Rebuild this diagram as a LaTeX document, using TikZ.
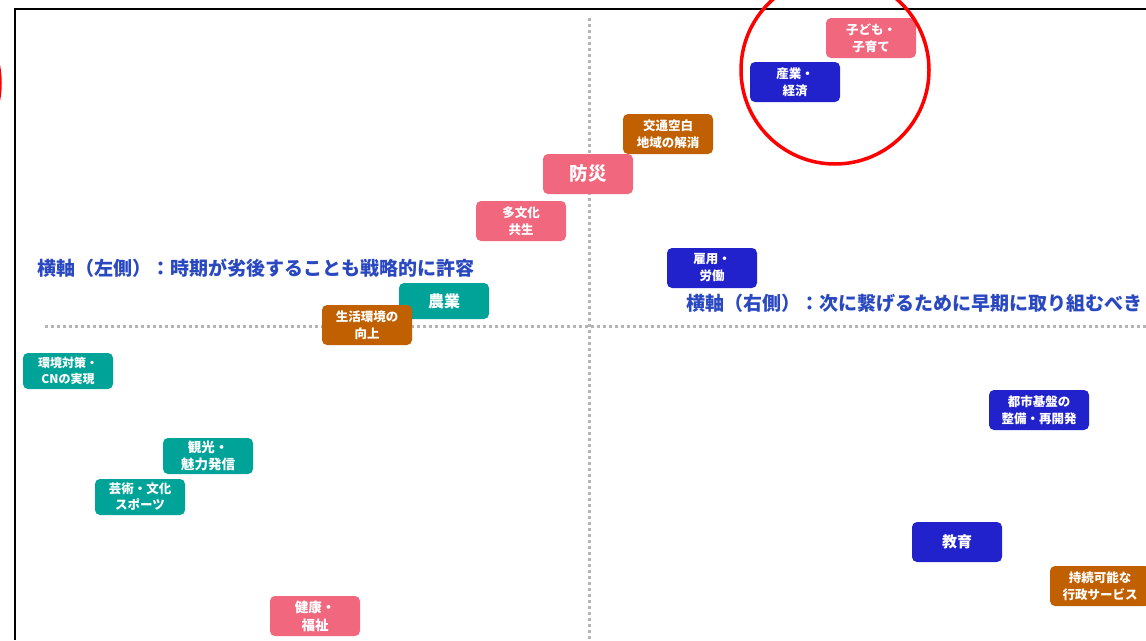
\documentclass[tikz,border=0pt]{standalone}
\usepackage{fontspec}
\setmainfont{Noto Sans CJK JP}
\usepackage{tikz}

\definecolor{pinkc}{HTML}{F0677E}
\definecolor{bluec}{HTML}{2222CC}
\definecolor{orangec}{HTML}{C06000}
\definecolor{tealc}{HTML}{00A398}
\definecolor{axislbl}{HTML}{2A48C0}
\definecolor{dotc}{HTML}{B4B4B4}

\begin{document}
\begin{tikzpicture}[x=1pt,y=-1pt,inner sep=0pt,
  box/.style={rounded corners=5pt,minimum width=90pt,minimum height=40pt,text=white,align=center,font=\fontsize{12.5}{17}\selectfont\bfseries},
  lbl/.style={anchor=west,text=axislbl,font=\fontsize{19}{22}\selectfont\bfseries},
  dots/.style={dotc,line width=3pt,dash pattern=on 3pt off 3pt}]
\clip (0,0) rectangle (1146,640);
\useasboundingbox (0,0) rectangle (1146,640);
\draw[line width=2.5pt] (15,640) -- (15,9) -- (1146,9);
\coordinate (vt) at (589,18);
\coordinate (vb) at (589,640);
\coordinate (hl) at (45,326);
\coordinate (hr) at (1146,326);
\draw[dots] (vt) -- (vb);
\draw[dots] (hl) -- (hr);
\node (1) at (871,38) [box,fill=pinkc] {子ども・\\子育て};
\node (2) at (795,82) [box,fill=bluec] {産業・\\経済};
\node (3) at (668,134) [box,fill=orangec] {交通空白\\地域の解消};
\node (4) at (588,174) [box,fill=pinkc,font=\fontsize{18.5}{20}\selectfont\bfseries] {防災};
\node (5) at (521,221) [box,fill=pinkc] {多文化\\共生};
\node (6) at (712,268) [box,fill=bluec] {雇用・\\労働};
\node (7) at (444,301) [box,fill=tealc,minimum height=36pt,font=\fontsize{16}{18}\selectfont\bfseries] {農業};
\node (8) at (367,325) [box,fill=orangec] {生活環境の\\向上};
\node (9) at (68,371) [box,fill=tealc,minimum height=36pt,font=\fontsize{12}{16}\selectfont\bfseries] {環境対策・\\CNの実現};
\node (10) at (208,456) [box,fill=tealc,minimum height=36pt,font=\fontsize{13.5}{17}\selectfont\bfseries] {観光・\\魅力発信};
\node (11) at (140,497) [box,fill=tealc,minimum height=36pt,font=\fontsize{12.5}{16}\selectfont\bfseries] {芸術・文化\\スポーツ};
\node (12) at (315,616) [box,fill=pinkc,font=\fontsize{13.5}{18}\selectfont\bfseries] {健康・\\福祉};
\node (13) at (1039,410) [box,fill=bluec,minimum width=100pt] {都市基盤の\\整備・再開発};
\node (14) at (957,542) [box,fill=bluec,font=\fontsize{15}{17}\selectfont\bfseries] {教育};
\node (15) at (1100,586) [box,fill=orangec,minimum width=100pt] {持続可能な\\行政サービス};
\node (l) at (37,268) [lbl] {横軸（左側）：時期が劣後することも戦略的に許容};
\node (r) at (686,303) [lbl] {横軸（右側）：次に繋げるために早期に取り組むべき};
\draw[red,line width=3.5pt] (835,70) circle (94);
\draw[red,line width=3.5pt] (-94,83) circle (94);
\end{tikzpicture}
\end{document}
